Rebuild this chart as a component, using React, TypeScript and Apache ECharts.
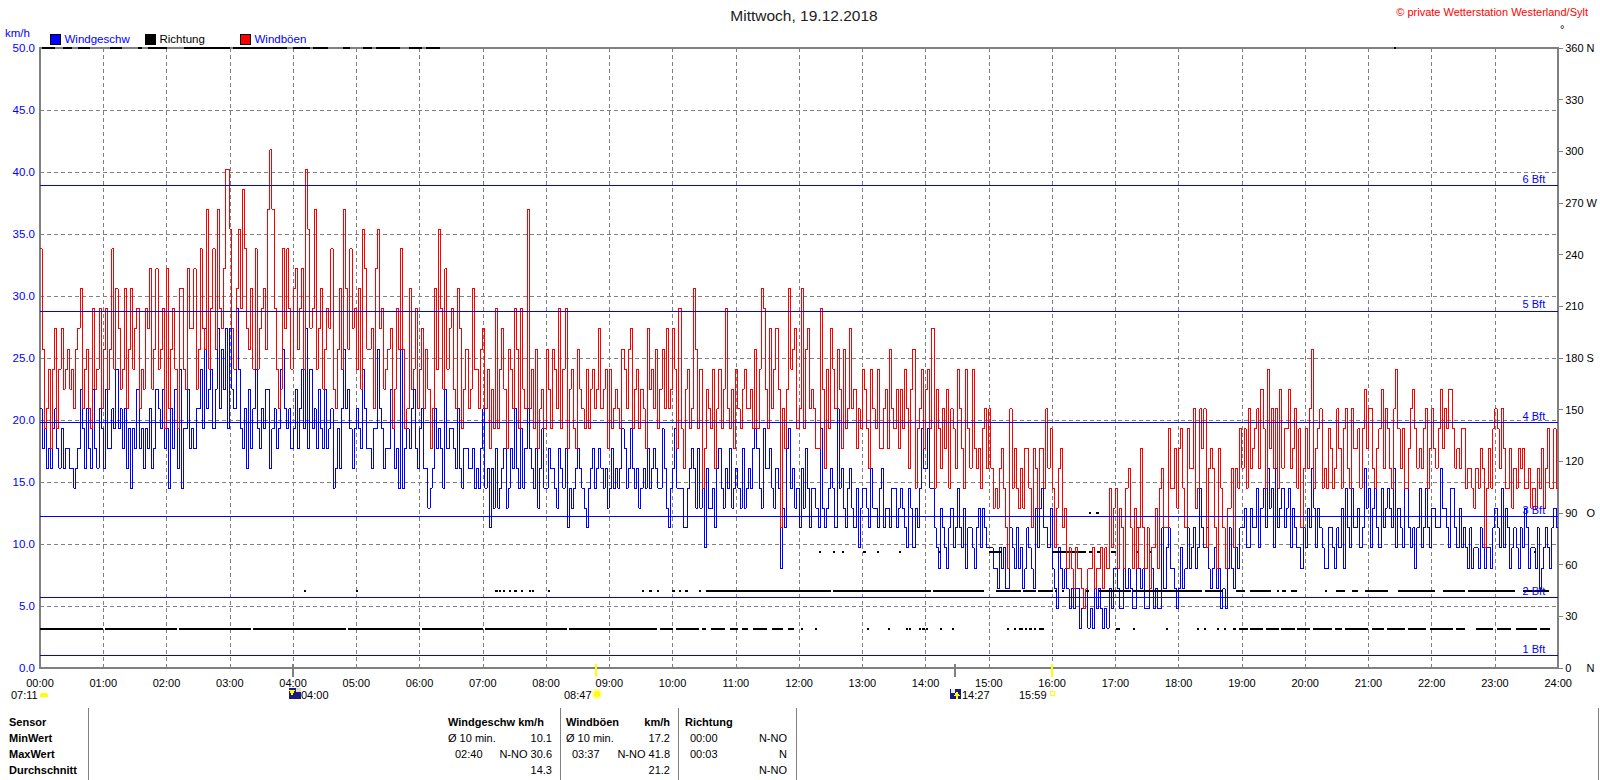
import React, { useEffect, useRef } from "react";
import * as echarts from "echarts";

const WIDTH = 1600;
const HEIGHT = 780;
const L = 40;
const R = 1560;
const T = 48;
const B = 668;
const SANS = '"Liberation Sans",Arial,sans-serif';

const title = "Mittwoch, 19.12.2018";
const copyright = "© private Wetterstation Westerland/Sylt";
const leftTicks = ["0.0", "5.0", "10.0", "15.0", "20.0", "25.0", "30.0", "35.0", "40.0", "45.0", "50.0"];
const NB = "\u00a0";
const rightTicks = [
  `0${NB}${NB}${NB}${NB}${NB}N`, "30", "60", `90${NB}${NB}${NB}O`, "120", "150", "180 S", "210", "240", "270 W", "300", "330", "360 N",
];
const hourLabels = Array.from({ length: 25 }, (_, h) => `${String(h).padStart(2, "0")}:00`);
const bftLabels = ["1 Bft", "2 Bft", "3 Bft", "4 Bft", "5 Bft", "6 Bft"];
const bftValues = [1.0, 5.7, 12.2, 19.8, 28.8, 38.9];

// one value every 2 minutes, one row per hour
const windgeschw = [
  20.9,17.7,19.3,16.1,17.7,16.1,19.3,20.9,17.7,16.1,19.3,16.1,17.7,17.7,16.1,16.1,14.5,16.1,17.7,22.5,19.3,16.1,20.9,17.7,16.1,22.5,17.7,16.1,20.9,19.3,
  16.1,22.5,17.7,17.7,20.9,19.3,24.1,19.3,20.9,17.7,20.9,16.1,19.3,14.5,19.3,17.7,22.5,17.7,19.3,16.1,19.3,17.7,20.9,16.1,17.7,22.5,20.9,19.3,22.5,17.7,
  19.3,14.5,20.9,17.7,22.5,16.1,24.1,14.5,19.3,19.3,22.5,17.7,19.3,17.7,20.9,20.9,24.1,19.3,27.4,20.9,22.5,24.1,19.3,22.5,27.4,20.9,25.7,22.5,27.4,19.3,
  27.4,22.5,20.9,29.0,24.1,19.3,17.7,20.9,16.1,22.5,17.7,20.9,24.1,19.3,17.7,20.9,19.3,22.5,22.5,16.1,19.3,20.9,17.7,19.3,24.1,25.7,20.9,19.3,20.9,17.7,
  19.3,22.5,17.7,20.9,24.1,19.3,27.4,17.7,24.1,19.3,20.9,17.7,22.5,19.3,17.7,22.5,17.7,19.3,20.9,14.5,16.1,19.3,16.1,20.9,25.7,20.9,22.5,19.3,16.1,19.3,
  20.9,19.3,17.7,24.1,20.9,17.7,17.7,16.1,19.3,19.3,25.7,20.9,19.3,16.1,17.7,17.7,22.5,19.3,16.1,17.7,14.5,25.7,14.5,17.7,19.3,17.7,20.9,22.5,17.7,16.1,
  19.3,20.9,16.1,16.1,12.9,14.5,16.1,20.9,17.7,19.3,17.7,14.5,22.5,17.7,19.3,19.3,17.7,16.1,20.9,16.1,14.5,17.7,17.7,16.1,16.1,17.7,14.5,16.1,14.5,17.7,
  20.9,14.5,16.1,11.3,16.1,12.9,17.7,12.9,14.5,16.1,17.7,12.9,14.5,17.7,16.1,20.9,16.1,14.5,19.3,14.5,17.7,20.9,17.7,16.1,14.5,17.7,12.9,16.1,19.3,14.5,
  14.5,17.7,16.1,16.1,14.5,12.9,17.7,16.1,14.5,17.7,11.3,14.5,12.9,14.5,16.1,17.7,16.1,14.5,12.9,11.3,14.5,16.1,17.7,14.5,16.1,17.7,16.1,14.5,16.1,12.9,
  14.5,17.7,14.5,16.1,14.5,16.1,19.3,17.7,14.5,16.1,19.3,16.1,14.5,16.1,12.9,14.5,16.1,14.5,17.7,14.5,16.1,17.7,16.1,14.5,14.5,19.3,16.1,12.9,11.3,14.5,
  16.1,19.3,14.5,14.5,14.5,11.3,11.3,14.5,16.1,17.7,16.1,12.9,17.7,12.9,14.5,9.7,16.1,12.9,12.9,14.5,11.3,16.1,17.7,14.5,12.9,16.1,14.5,17.7,12.9,14.5,
  16.1,14.5,12.9,17.7,12.9,14.5,16.1,14.5,17.7,19.3,17.7,14.5,12.9,19.3,16.1,16.1,17.7,14.5,12.9,16.1,14.5,8.0,12.9,11.3,17.7,19.3,14.5,16.1,12.9,14.5,
  11.3,16.1,12.9,17.7,14.5,11.3,14.5,14.5,12.9,11.3,19.3,12.9,11.3,12.9,14.5,16.1,14.5,11.3,20.9,14.5,16.1,12.9,11.3,14.5,16.1,12.9,11.3,14.5,9.7,12.9,
  14.5,14.5,12.9,11.3,16.1,12.9,12.9,11.3,14.5,16.1,11.3,12.9,12.9,11.3,14.5,14.5,11.3,12.9,14.5,12.9,11.3,9.7,14.5,12.9,9.7,12.9,11.3,14.5,19.3,16.1,
  16.1,19.3,14.5,14.5,11.3,9.7,8.0,12.9,11.3,9.7,8.0,11.3,12.9,9.7,11.3,14.5,11.3,9.7,12.9,8.0,11.3,11.3,9.7,8.0,11.3,12.9,9.7,12.9,11.3,9.7,
  9.7,9.7,8.0,8.0,6.4,9.7,8.0,9.7,6.4,6.4,11.3,9.7,8.0,11.3,8.0,9.7,6.4,8.0,11.3,9.7,8.0,6.4,12.9,9.7,12.9,14.5,11.3,11.3,9.7,12.9,
  8.0,6.4,4.8,9.7,8.0,6.4,8.0,6.4,4.8,6.4,4.8,6.4,6.4,3.2,4.8,4.8,6.4,3.2,4.8,3.2,6.4,4.8,6.4,4.8,3.2,4.8,3.2,6.4,4.8,8.0,
  8.0,6.4,4.8,4.8,8.0,6.4,8.0,6.4,4.8,4.8,11.3,8.0,6.4,8.0,4.8,4.8,6.4,8.0,4.8,6.4,4.8,4.8,11.3,6.4,9.7,11.3,8.0,8.0,6.4,4.8,
  6.4,9.7,6.4,8.0,11.3,8.0,9.7,11.3,8.0,9.7,14.5,11.3,9.7,11.3,8.0,6.4,8.0,9.7,6.4,8.0,4.8,6.4,4.8,8.0,11.3,8.0,6.4,9.7,8.0,11.3,
  11.3,12.9,9.7,9.7,12.9,11.3,11.3,14.5,9.7,12.9,14.5,11.3,16.1,12.9,14.5,9.7,16.1,11.3,12.9,14.5,11.3,12.9,14.5,9.7,12.9,11.3,9.7,9.7,8.0,11.3,
  9.7,12.9,11.3,16.1,12.9,9.7,12.9,11.3,9.7,8.0,8.0,11.3,11.3,9.7,8.0,11.3,9.7,12.9,8.0,14.5,11.3,9.7,14.5,11.3,11.3,12.9,9.7,11.3,16.1,12.9,
  14.5,9.7,12.9,14.5,11.3,9.7,14.5,11.3,12.9,14.5,12.9,11.3,16.1,9.7,12.9,11.3,9.7,14.5,14.5,11.3,9.7,11.3,8.0,11.3,14.5,9.7,11.3,14.5,11.3,9.7,
  12.9,12.9,11.3,11.3,16.1,12.9,12.9,11.3,9.7,14.5,14.5,11.3,9.7,12.9,9.7,11.3,9.7,8.0,11.3,8.0,9.7,9.7,8.0,11.3,9.7,8.0,9.7,9.7,8.0,11.3,
  12.9,11.3,9.7,14.5,9.7,12.9,11.3,8.0,9.7,11.3,9.7,8.0,11.3,9.7,12.9,11.3,8.0,9.7,9.7,8.0,11.3,6.4,8.0,9.7,11.3,9.7,8.0,11.3,12.9,11.3,
];

const windboeen = [
  33.8,25.7,19.3,20.9,24.1,17.7,24.1,27.4,19.3,24.1,27.4,22.5,24.1,25.7,22.5,24.1,20.9,25.7,27.4,30.6,20.9,24.1,25.7,20.9,19.3,29.0,22.5,24.1,29.0,20.9,
  25.7,29.0,22.5,25.7,33.8,24.1,30.6,27.4,22.5,24.1,30.6,20.9,25.7,30.6,24.1,27.4,29.0,20.9,24.1,22.5,29.0,27.4,32.2,22.5,25.7,32.2,24.1,25.7,29.0,19.3,
  32.2,20.9,25.7,29.0,24.1,19.3,30.6,30.6,24.1,22.5,32.2,27.4,27.4,32.2,22.5,25.7,33.8,27.4,25.7,37.0,24.1,29.0,33.8,25.7,37.0,29.0,27.4,32.2,40.2,40.2,
  35.4,27.4,24.1,30.6,35.4,29.0,38.6,33.8,27.4,25.7,30.6,24.1,33.8,24.1,27.4,29.0,30.6,25.7,37.0,41.8,37.0,29.0,24.1,20.9,22.5,33.8,27.4,33.8,29.0,24.1,
  30.6,32.2,25.7,29.0,32.2,24.1,40.2,35.4,27.4,29.0,37.0,24.1,27.4,30.6,22.5,25.7,29.0,27.4,33.8,22.5,20.9,25.7,30.6,24.1,37.0,30.6,25.7,33.8,27.4,29.0,
  24.1,30.6,22.5,35.4,32.2,25.7,25.7,27.4,20.9,32.2,35.4,27.4,29.0,22.5,24.1,25.7,27.4,19.3,22.5,29.0,25.7,33.8,25.7,19.3,20.9,30.6,22.5,24.1,29.0,20.9,
  24.1,27.4,20.9,25.7,22.5,17.7,20.9,30.6,24.1,35.4,29.0,22.5,32.2,24.1,27.4,29.0,22.5,20.9,30.6,27.4,19.3,22.5,25.7,20.9,22.5,30.6,24.1,24.1,20.9,25.7,
  27.4,20.9,24.1,17.7,22.5,19.3,29.0,19.3,24.1,27.4,22.5,17.7,25.7,24.1,20.9,29.0,25.7,19.3,29.0,22.5,20.9,37.0,20.9,24.1,19.3,25.7,17.7,20.9,22.5,19.3,
  25.7,22.5,19.3,25.7,24.1,20.9,29.0,19.3,24.1,29.0,17.7,22.5,24.1,19.3,17.7,25.7,22.5,20.9,19.3,24.1,19.3,22.5,24.1,20.9,22.5,27.4,20.9,22.5,24.1,17.7,
  24.1,19.3,20.9,22.5,20.9,19.3,25.7,24.1,20.9,25.7,27.4,19.3,22.5,24.1,19.3,22.5,20.9,17.7,27.4,22.5,24.1,20.9,25.7,19.3,22.5,25.7,20.9,27.4,20.9,22.5,
  27.4,24.1,17.7,29.0,19.3,16.1,22.5,24.1,19.3,20.9,30.6,25.7,19.3,24.1,14.5,17.7,22.5,20.9,19.3,24.1,16.1,20.9,24.1,19.3,22.5,29.0,20.9,19.3,22.5,17.7,
  24.1,20.9,19.3,22.5,24.1,20.9,20.9,22.5,19.3,25.7,19.3,24.1,30.6,29.0,22.5,19.3,27.4,20.9,24.1,27.4,22.5,11.3,20.9,17.7,22.5,30.6,24.1,25.7,27.4,19.3,
  20.9,30.6,19.3,25.7,27.4,20.9,22.5,20.9,17.7,17.7,29.0,22.5,16.1,24.1,19.3,27.4,24.1,20.9,25.7,22.5,17.7,25.7,19.3,20.9,27.4,20.9,22.5,17.7,20.9,19.3,
  24.1,22.5,19.3,16.1,24.1,20.9,19.3,24.1,17.7,17.7,20.9,22.5,17.7,25.7,20.9,19.3,22.5,17.7,22.5,19.3,24.1,20.9,16.1,22.5,25.7,14.5,19.3,20.9,24.1,17.7,
  22.5,24.1,19.3,27.4,14.5,22.5,19.3,16.1,20.9,17.7,22.5,14.5,20.9,19.3,16.1,24.1,20.9,17.7,14.5,24.1,19.3,16.1,24.1,17.7,16.1,17.7,14.5,19.3,20.9,16.1,
  20.9,16.1,12.9,14.5,12.9,16.1,17.7,14.5,11.3,8.0,20.9,14.5,17.7,14.5,12.9,16.1,12.9,17.7,17.7,14.5,11.3,17.7,16.1,12.9,17.7,17.7,14.5,20.9,16.1,19.3,
  14.5,9.7,12.9,16.1,17.7,11.3,12.9,8.0,9.7,8.0,6.4,9.7,8.0,8.0,6.4,4.8,6.4,8.0,8.0,9.7,6.4,8.0,8.0,9.7,6.4,9.7,8.0,14.5,9.7,12.9,
  14.5,8.0,12.9,11.3,8.0,14.5,16.1,11.3,8.0,12.9,8.0,11.3,17.7,11.3,8.0,11.3,6.4,9.7,9.7,12.9,8.0,14.5,16.1,11.3,11.3,19.3,14.5,14.5,17.7,12.9,
  17.7,19.3,14.5,11.3,19.3,16.1,16.1,20.9,12.9,14.5,20.9,17.7,20.9,9.7,16.1,17.7,16.1,11.3,8.0,17.7,14.5,11.3,8.0,12.9,12.9,16.1,9.7,16.1,14.5,19.3,
  16.1,19.3,14.5,20.9,16.1,17.7,19.3,20.9,16.1,22.5,19.3,14.5,24.1,17.7,20.9,16.1,20.9,14.5,22.5,16.1,19.3,19.3,22.5,16.1,17.7,20.9,14.5,19.3,11.3,16.1,
  19.3,16.1,20.9,25.7,14.5,17.7,19.3,20.9,14.5,16.1,14.5,19.3,17.7,14.5,16.1,20.9,17.7,14.5,19.3,20.9,16.1,14.5,20.9,17.7,17.7,19.3,14.5,19.3,22.5,17.7,
  20.9,20.9,16.1,14.5,17.7,19.3,22.5,16.1,20.9,19.3,16.1,14.5,20.9,24.1,19.3,16.1,19.3,14.5,14.5,17.7,20.9,22.5,19.3,16.1,17.7,16.1,19.3,20.9,14.5,17.7,
  20.9,17.7,16.1,19.3,22.5,17.7,20.9,19.3,22.5,22.5,19.3,16.1,17.7,16.1,19.3,19.3,14.5,16.1,16.1,14.5,12.9,16.1,14.5,17.7,16.1,9.7,14.5,17.7,14.5,19.3,
  20.9,19.3,16.1,20.9,17.7,14.5,14.5,17.7,12.9,16.1,14.5,17.7,16.1,17.7,14.5,14.5,16.1,12.9,14.5,12.9,16.1,14.5,17.7,12.9,16.1,19.3,14.5,14.5,19.3,14.5,
];

// runs of wind-direction readings: [from minute, to minute]
const richtung22 = [
  [0,60],[62,130],[132,200],[202,290],[292,360],[362,420],[422,500],[502,585],[588,600],[603,625],[628,632],[636,650],[654,662],[666,672],[676,690],[694,705],[709,715],[722,724],[735,737],
  [784,786],[804,806],[821,823],[824,826],[834,836],[837,839],[840,842],[854,856],[865,867],[917,919],[924,926],[929,932],[934,936],[938,941],[943,945],[948,952],
  [1021,1024],[1037,1039],[1068,1070],[1097,1099],[1104,1106],[1116,1118],[1123,1125],[1132,1134],[1137,1146],
  [1148,1160],[1163,1175],[1177,1190],[1192,1205],[1207,1225],[1228,1235],[1238,1260],[1263,1275],[1278,1295],[1298,1315],[1318,1340],[1343,1352],[1362,1378],[1382,1395],[1400,1420],[1423,1432],
];
const richtung45 = [
  [250,252],[300,302],[432,434],[435,437],[439,441],[445,447],[450,452],[456,458],[464,466],[467,469],[482,484],
  [571,573],[578,580],[585,587],[599,602],[606,608],[612,615],[625,627],[632,750],[752,845],[847,895],
  [907,930],[932,945],[947,961],[963,965],[969,971],[992,995],[1004,1035],[1037,1102],[1105,1122],[1134,1143],[1148,1168],[1173,1175],[1178,1182],
  [1187,1192],[1219,1221],[1229,1238],[1244,1250],[1257,1279],[1288,1323],[1331,1352],[1354,1399],[1407,1431],
];
const richtung67 = [
  [739,741],[752,754],[761,763],[781,783],[794,796],[815,817],[853,855],[900,912],
  [960,992],[995,999],[1003,1006],[1016,1021],[1040,1042],[1053,1055],[1417,1419],
];
const richtung90 = [[995,997],[1002,1004]];
const richtung360 = [
  [2,14],[22,30],[36,47],[66,78],[93,97],[102,120],[137,180],[183,234],[240,256],[259,273],[287,294],[306,315],[319,341],[350,362],[366,379],[1284,1286],
];

const sensorRows = ["Sensor", "MinWert", "MaxWert", "Durchschnitt"];

function toRichtung(): any[] {
  const groups: [number[][], number][] = [
    [richtung22, 22.5], [richtung45, 45], [richtung67, 67.5], [richtung90, 90], [richtung360, 360],
  ];
  const out: any[] = [];
  groups.forEach(([runs, deg]) => {
    runs.forEach(([a, b]) => {
      out.push([a, deg], [b, deg], [b, null]);
    });
  });
  return out;
}

const stepped = (vals: number[]) => {
  const d = vals.map((v, i) => [i * 2, v]);
  d.push([1440, vals[vals.length - 1]]);
  return d;
};

const minuteX = (m: number) => L + (m / 1440) * (R - L);

function txt(x: number, y: number, text: string, o: any = {}) {
  return {
    type: "text",
    x,
    y,
    silent: true,
    style: {
      text,
      fontFamily: SANS,
      fontSize: o.size || 11,
      fontWeight: o.weight || "normal",
      fill: o.fill || "#000",
      align: o.align || "left",
      verticalAlign: "middle",
    },
  };
}

function buildGraphic(): any[] {
  const g: any[] = [];
  g.push(txt(804, 15, title, { size: 15.5, align: "center", fill: "#222" }));
  g.push(txt(1588, 12, copyright, { size: 11, align: "right", fill: "#f00" }));
  g.push(txt(5, 33, "km/h", { size: 11.5, fill: "#00f" }));
  g.push(txt(1560, 29, "°", { size: 11 }));

  // sun / moon marks below the axis
  [[240, "#808080"], [527, "#ffff00"], [867, "#808080"], [959, "#ffff00"]].forEach(([m, c]) => {
    g.push({ type: "rect", silent: true, z: 10, shape: { x: minuteX(m as number) - 1, y: 664, width: 2, height: 13 }, style: { fill: c } });
  });
  g.push(txt(11, 694.5, "07:11"));
  g.push({ type: "sector", silent: true, shape: { cx: 44, cy: 697, r: 4.5, startAngle: Math.PI, endAngle: 2 * Math.PI }, style: { fill: "#ffff00" } });
  g.push({ type: "rect", silent: true, shape: { x: 289, y: 688, width: 12, height: 11 }, style: { fill: "#1a1a80" } });
  g.push({ type: "rect", silent: true, shape: { x: 296, y: 688, width: 5, height: 4 }, style: { fill: "#ddd" } });
  g.push({ type: "polygon", silent: true, shape: { points: [[289, 690], [295, 690], [292, 696]] }, style: { fill: "#ffff00" } });
  g.push(txt(301, 694.5, "04:00"));
  g.push(txt(564, 694.5, "08:47"));
  g.push({ type: "circle", silent: true, shape: { cx: 597, cy: 694, r: 5.5 }, style: { fill: "#ffffa0" } });
  g.push({ type: "circle", silent: true, shape: { cx: 597, cy: 694, r: 3.5 }, style: { fill: "#ffff00" } });
  g.push({ type: "rect", silent: true, shape: { x: 950, y: 689, width: 11, height: 10 }, style: { fill: "#1a1a80" } });
  g.push({ type: "circle", silent: true, shape: { cx: 953, cy: 691, r: 2.5 }, style: { fill: "#eee" } });
  g.push({ type: "polygon", silent: true, shape: { points: [[957, 691], [960, 696], [958, 696], [958, 699], [956, 699], [956, 696], [954, 696]] }, style: { fill: "#ffff00" } });
  g.push(txt(962, 694.5, "14:27"));
  g.push(txt(1019, 694.5, "15:59"));
  g.push({ type: "rect", silent: true, shape: { x: 1050.5, y: 691.5, width: 4, height: 4 }, style: { fill: "none", stroke: "#ffff00", lineWidth: 1 } });

  // table
  [88, 560, 678, 796, 1598].forEach((x) => {
    g.push({ type: "line", silent: true, shape: { x1: x, y1: 708, x2: x, y2: 780 }, style: { stroke: "#808080", lineWidth: 1 } });
  });
  const rowY = [722, 738, 754, 770];
  sensorRows.forEach((s, i) => g.push(txt(9, rowY[i], s, { weight: "bold", size: 11 })));
  g.push(txt(448, rowY[0], "Windgeschw km/h", { weight: "bold", size: 11 }));
  g.push(txt(448, rowY[1], "Ø 10 min."));
  g.push(txt(552, rowY[1], "10.1", { align: "right" }));
  g.push(txt(455, rowY[2], "02:40"));
  g.push(txt(552, rowY[2], "N-NO 30.6", { align: "right" }));
  g.push(txt(552, rowY[3], "14.3", { align: "right" }));
  g.push(txt(566, rowY[0], "Windböen", { weight: "bold", size: 11 }));
  g.push(txt(670, rowY[0], "km/h", { weight: "bold", size: 11, align: "right" }));
  g.push(txt(566, rowY[1], "Ø 10 min."));
  g.push(txt(670, rowY[1], "17.2", { align: "right" }));
  g.push(txt(572, rowY[2], "03:37"));
  g.push(txt(670, rowY[2], "N-NO 41.8", { align: "right" }));
  g.push(txt(670, rowY[3], "21.2", { align: "right" }));
  g.push(txt(685, rowY[0], "Richtung", { weight: "bold", size: 11 }));
  g.push(txt(690, rowY[1], "00:00"));
  g.push(txt(787, rowY[1], "N-NO", { align: "right" }));
  g.push(txt(690, rowY[2], "00:03"));
  g.push(txt(787, rowY[2], "N", { align: "right" }));
  g.push(txt(787, rowY[3], "N-NO", { align: "right" }));
  return g;
}

const legendBase = (name: string, left: number, color: string) => ({
  data: [{ name, icon: "rect", textStyle: { color, fontFamily: SANS, fontSize: 11.5, padding: [0, 0, 0, -1] } }],
  left,
  top: 33,
  padding: 0,
  itemWidth: 10,
  itemHeight: 10,
  itemGap: 0,
  selectedMode: false,
  itemStyle: { borderColor: "#000", borderWidth: 1 },
  lineStyle: { width: 0 },
});

function buildOption(): any {
  return {
    animation: false,
    backgroundColor: "#fff",
    textStyle: { fontFamily: SANS },
    grid: { show: true, left: L, right: WIDTH - R, top: T, bottom: HEIGHT - B, borderColor: "#808080", borderWidth: 2, backgroundColor: "#fff" },
    legend: [
      legendBase("Windgeschw", 50, "#00f"),
      legendBase("Richtung", 145, "#000"),
      legendBase("Windböen", 240, "#00f"),
    ],
    xAxis: {
      type: "value",
      min: 0,
      max: 1440,
      interval: 60,
      axisLine: { show: false },
      axisTick: { show: false },
      axisLabel: { color: "#000", fontSize: 11, margin: 9, fontFamily: SANS, formatter: (v: number) => hourLabels[v / 60] },
      splitLine: { show: true, lineStyle: { color: "#808080", type: [4, 3], width: 1 } },
    },
    yAxis: [
      {
        type: "value",
        min: 0,
        max: 50,
        interval: 5,
        axisLine: { show: false },
        axisTick: { show: false },
        axisLabel: { color: "#00f", fontSize: 11.5, margin: 5, fontFamily: SANS, formatter: (v: number) => leftTicks[v / 5] },
        splitLine: { show: true, lineStyle: { color: "#808080", type: [4, 3], width: 1 } },
      },
      {
        type: "value",
        min: 0,
        max: 360,
        interval: 30,
        position: "right",
        axisLine: { show: false },
        axisTick: { show: true, length: 5, lineStyle: { color: "#808080", width: 1 } },
        axisLabel: { color: "#000", fontSize: 11, margin: 7, fontFamily: SANS, formatter: (v: number) => rightTicks[v / 30] },
        splitLine: { show: false },
      },
    ],
    series: [
      {
        name: "Beaufort",
        type: "line",
        data: [],
        silent: true,
        markLine: {
          silent: true,
          animation: false,
          symbol: "none",
          lineStyle: { color: "#00f", type: "solid", width: 1 },
          label: {
            position: "insideEndTop",
            color: "#00f",
            fontFamily: SANS,
            fontSize: 11,
            distance: [13, 1],
            formatter: (p: any) => bftLabels[bftValues.indexOf(p.value)],
          },
          data: bftValues.map((v) => ({ yAxis: v })),
        },
      },
      {
        name: "Windgeschw",
        type: "line",
        step: "end",
        data: stepped(windgeschw),
        symbol: "none",
        silent: true,
        itemStyle: { color: "#00f" },
        lineStyle: { color: "#00f", width: 1 },
      },
      {
        name: "Richtung",
        type: "line",
        yAxisIndex: 1,
        data: toRichtung(),
        symbol: "none",
        silent: true,
        connectNulls: false,
        itemStyle: { color: "#000" },
        lineStyle: { color: "#000", width: 2 },
      },
      {
        name: "Windböen",
        type: "line",
        step: "end",
        data: stepped(windboeen),
        symbol: "none",
        silent: true,
        itemStyle: { color: "#f00" },
        lineStyle: { color: "#f00", width: 1 },
      },
    ],
    graphic: { elements: buildGraphic() },
  };
}

export default function App() {
  const ref = useRef<HTMLDivElement>(null);
  useEffect(() => {
    const chart = echarts.init(ref.current!, undefined, { renderer: "svg" });
    chart.setOption(buildOption());
    return () => chart.dispose();
  }, []);
  return (
    <>
      <style>{"svg path{shape-rendering:crispEdges}"}</style>
      <div ref={ref} style={{ position: "absolute", left: 0, top: 0, width: WIDTH, height: HEIGHT }} />
    </>
  );
}
